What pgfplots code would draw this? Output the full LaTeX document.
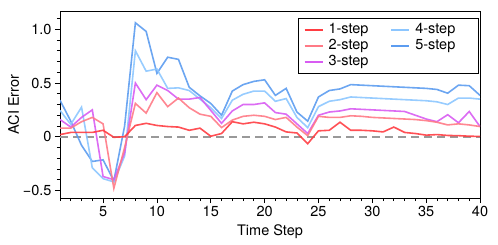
\documentclass[border=0pt]{standalone}
\usepackage{fontspec}
\setmainfont{TeX Gyre Heros}
\usepackage{pgfplots}
\usepackage{pgfplotstable}
\pgfplotsset{compat=1.18}
\definecolor{cA}{HTML}{FF3D42}
\definecolor{cB}{HTML}{FF7A86}
\definecolor{cC}{HTML}{D85CF2}
\definecolor{cD}{HTML}{8CC6FF}
\definecolor{cE}{HTML}{5C9CF0}
\pgfplotstableread{
t s1 s2 s3 s4 s5
1 0.02 0.08 0.16 0.245 0.34
2 0.04 0.08 0.09 0.115 0.145
3 0.04 0.14 0.18 0.275 -0.08
4 0.04 0.18 0.25 -0.29 -0.23
5 0.06 0.12 -0.37 -0.39 -0.215
6 -0.005 -0.48 -0.40 -0.42 -0.41
7 0.0 -0.10 -0.15 -0.18 0.10
8 0.105 0.31 0.50 0.80 1.06
9 0.125 0.22 0.345 0.61 0.98
10 0.105 0.41 0.48 0.63 0.59
11 0.095 0.28 0.43 0.45 0.74
12 0.09 0.36 0.35 0.455 0.72
13 0.06 0.27 0.35 0.43 0.46
14 0.08 0.21 0.365 0.35 0.38
15 0.005 0.19 0.245 0.27 0.31
16 0.03 0.085 0.125 0.17 0.2
17 0.14 0.155 0.24 0.34 0.425
18 0.12 0.19 0.3 0.395 0.485
19 0.135 0.2 0.3 0.425 0.515
20 0.12 0.19 0.315 0.425 0.53
21 0.09 0.16 0.225 0.33 0.385
22 0.045 0.18 0.21 0.355 0.45
23 0.035 0.09 0.12 0.18 0.23
24 -0.065 0.01 0.03 0.085 0.145
25 0.055 0.19 0.2 0.28 0.37
26 0.06 0.18 0.23 0.33 0.43
27 0.135 0.18 0.24 0.345 0.445
28 0.06 0.195 0.26 0.37 0.485
29 0.06 0.19 0.255 0.365 0.48
30 0.055 0.18 0.25 0.36 0.475
31 0.045 0.175 0.245 0.355 0.47
32 0.09 0.17 0.24 0.35 0.465
33 0.04 0.165 0.235 0.345 0.46
34 0.03 0.16 0.2 0.34 0.455
35 0.015 0.15 0.165 0.335 0.45
36 0.02 0.135 0.14 0.325 0.44
37 0.012 0.11 0.205 0.30 0.405
38 0.01 0.12 0.13 0.36 0.48
39 0.005 0.11 0.235 0.36 0.475
40 0.003 0.095 0.095 0.35 0.385
}\datatable
\begin{document}
\begin{tikzpicture}
\begin{axis}[
  scale only axis,
  width=420bp, height=187bp,
  xmin=1, xmax=40, ymin=-0.57, ymax=1.17,
  xtick={5,10,...,40},
  minor xtick={1,...,40},
  ytick={-0.5,0,0.5,1.0},
  yticklabels={−0.5,0,0.5,1.0},
  minor ytick={-0.5,-0.4,...,1.15},
  tick align=outside,
  xtick pos=bottom, ytick pos=left,
  major tick length=5bp, minor tick length=3bp,
  every tick/.style={black, line width=0.8bp},
  axis line style={line width=0.8bp},
  /pgf/number format/assume math mode=true,
  tick label style={font=\fontsize{14.5bp}{16bp}\selectfont},
  label style={font=\fontsize{14.5bp}{16bp}\selectfont},
  xlabel={Time Step}, ylabel={ACI Error},
  xlabel style={yshift=-1bp},
  ylabel style={yshift=-3bp},
  legend columns=2,
  legend cell align=left,
  legend style={at={(axis description cs:0.997,0.963)}, anchor=north east,
    draw=black, line width=0.8bp, font=\fontsize{14.5bp}{16bp}\selectfont,
    nodes={text height=10bp, text depth=3bp, inner ysep=1.5bp, inner xsep=0bp},
    /tikz/every odd column/.append style={column sep=5bp},
    /tikz/every even column/.append style={column sep=0bp},
    row sep=0bp, inner xsep=5bp, inner ysep=3.5bp},
  legend image code/.code={\draw[#1, line width=1.8bp] (0cm,0cm) -- (18bp,0cm);},
]
\addplot[gray!80, dashed, line width=1.6bp, dash pattern=on 8bp off 5bp, forget plot] coordinates {(1,0) (40,0)};
\addplot[cE, opacity=0.9, line width=1.6bp, forget plot] table[x=t, y=s5] {\datatable};
\addplot[cD, opacity=0.9, line width=1.6bp, forget plot] table[x=t, y=s4] {\datatable};
\addplot[cC, opacity=0.9, line width=1.6bp, forget plot] table[x=t, y=s3] {\datatable};
\addplot[cB, opacity=0.9, line width=1.6bp, forget plot] table[x=t, y=s2] {\datatable};
\addplot[cA, opacity=0.9, line width=1.6bp, forget plot] table[x=t, y=s1] {\datatable};
\addlegendimage{cA}\addlegendentry{\makebox[62bp][l]{1-step}}
\addlegendimage{cD}\addlegendentry{\makebox[58bp][l]{4-step}}
\addlegendimage{cB}\addlegendentry{\makebox[62bp][l]{2-step}}
\addlegendimage{cE}\addlegendentry{\makebox[58bp][l]{5-step}}
\addlegendimage{cC}\addlegendentry{\makebox[62bp][l]{3-step}}
\end{axis}
\path (current axis.south west) ++(-60bp,-46bp) (current axis.north east) ++(18bp,11bp);
\end{tikzpicture}
\end{document}
